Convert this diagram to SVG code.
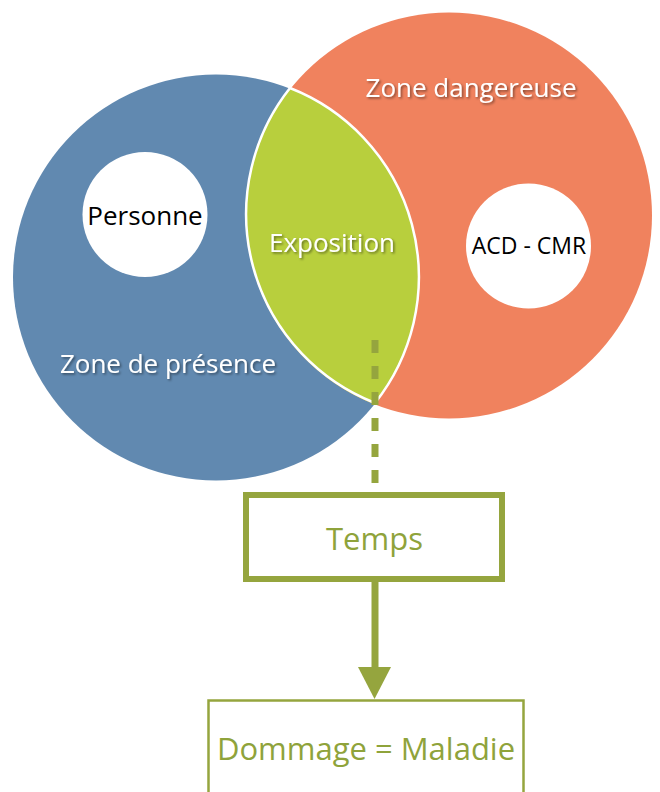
<svg xmlns="http://www.w3.org/2000/svg" width="660" height="792" viewBox="0 0 660 792">
<style>
.lbl{font-family:"Open Sans","DejaVu Sans",sans-serif;text-anchor:middle}
.wt{fill:#ffffff;font-size:26px;filter:url(#sh)}
.bk{fill:#000000;font-size:26px}
.ol{fill:#8fa33b}
</style>
<defs>
<filter id="sh" x="-10%" y="-30%" width="120%" height="160%">
<feDropShadow dx="1.5" dy="1.5" stdDeviation="1.2" flood-color="#000" flood-opacity="0.45"/>
</filter>
<clipPath id="clipBlue"><circle cx="216" cy="277.5" r="203"/></clipPath>
</defs>
<rect width="660" height="792" fill="#ffffff"/>
<g id="zone-presence">
<circle cx="216" cy="277.5" r="203" fill="#6189b0"/>
<text class="lbl wt" x="168" y="373">Zone de présence</text>
</g>
<g id="zone-dangereuse">
<circle cx="449" cy="215.5" r="203" fill="#f0825e"/>
<text class="lbl wt" x="471" y="97">Zone dangereuse</text>
</g>
<g id="exposition">
<circle cx="449" cy="215.5" r="203" fill="#b8cf3d" clip-path="url(#clipBlue)"/>
<path d="M290,88 A203,203 0 0 0 375,403 A203,203 0 0 0 290,88 Z" fill="none" stroke="#ffffff" stroke-width="2.5"/>
<text class="lbl wt" x="332" y="252">Exposition</text>
</g>
<g id="personne">
<circle cx="145" cy="214.5" r="62.5" fill="#ffffff"/>
<text class="lbl bk" x="145" y="225">Personne</text>
</g>
<g id="acd-cmr">
<circle cx="528.5" cy="246" r="62.5" fill="#ffffff"/>
<text class="lbl bk" x="529" y="254" style="font-size:23px">ACD - CMR</text>
</g>
<g id="connectors">
<line x1="375" y1="340" x2="375" y2="486" stroke="#95a53e" stroke-width="7" stroke-dasharray="13,13"/>
<line x1="375" y1="582" x2="375" y2="668" stroke="#95a53e" stroke-width="7"/>
<path d="M358,667 L391,667 L374.5,699 Z" fill="#95a53e"/>
</g>
<g id="temps">
<rect x="246" y="495" width="256" height="84" fill="#ffffff" stroke="#95a53e" stroke-width="6"/>
<text class="lbl ol" x="374.5" y="550" style="font-size:31px">Temps</text>
</g>
<g id="dommage">
<rect x="208.5" y="700.5" width="315" height="110" fill="#ffffff" stroke="#95a53e" stroke-width="2.5"/>
<text class="lbl ol" x="366" y="760" style="font-size:31px">Dommage = Maladie</text>
</g>
</svg>
